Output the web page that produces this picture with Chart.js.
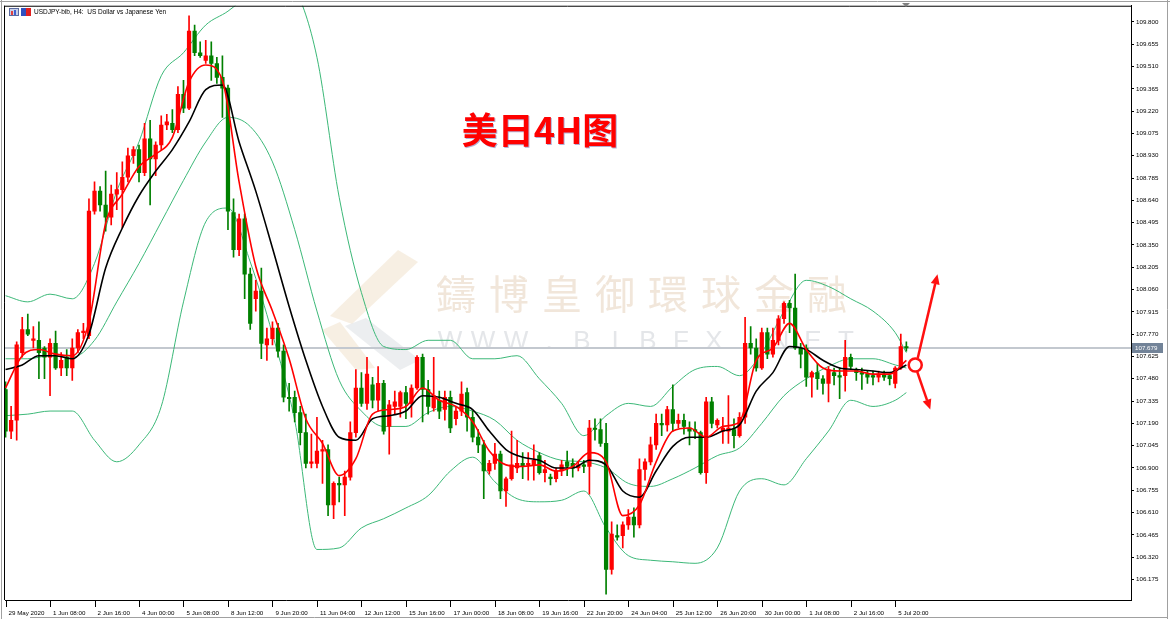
<!DOCTYPE html>
<html>
<head>
<meta charset="utf-8">
<script src="https://cdn.jsdelivr.net/npm/chart.js@4.4.1/dist/chart.umd.min.js"></script>
<style>
  html, body { margin: 0; padding: 0; background: #fff; overflow: hidden; }
  #wrap { width: 1170px; height: 619px; position: relative; }
</style>
</head>
<body>
<div id="wrap"><canvas id="chart"></canvas></div>
<script>
// time axis labels, one every 8 bars (H4)
const timeLabels = ["29 May 2020", "1 Jun 08:00", "2 Jun 16:00", "4 Jun 00:00", "5 Jun 08:00",
  "8 Jun 12:00", "9 Jun 20:00", "11 Jun 04:00", "12 Jun 12:00", "15 Jun 16:00", "17 Jun 00:00",
  "18 Jun 08:00", "19 Jun 16:00", "22 Jun 20:00", "24 Jun 04:00", "25 Jun 12:00", "26 Jun 20:00",
  "30 Jun 00:00", "1 Jul 08:00", "2 Jul 16:00", "5 Jul 20:00"];

const priceTicks = [109.800, 109.655, 109.510, 109.365, 109.220, 109.075, 108.930, 108.785,
  108.640, 108.495, 108.350, 108.205, 108.060, 107.915, 107.770, 107.625, 107.480, 107.335,
  107.190, 107.045, 106.900, 106.755, 106.610, 106.465, 106.320, 106.175];

const lastPrice = 107.679;

// USDJPY H4 candles
const opens = [
  107.41,107.14,107.21,107.65,107.80,107.73,107.73,107.68,107.62,107.71,
  107.55,107.62,107.55,107.68,107.78,107.76,108.57,108.70,108.61,108.53,
  108.68,108.71,108.79,108.93,108.97,108.82,109.04,108.91,109.00,109.13,
  109.14,109.10,109.33,109.24,109.74,109.60,109.55,109.58,109.53,109.44,
  109.37,108.56,108.32,108.52,108.16,108.00,108.05,107.70,107.74,107.81,
  107.66,107.36,107.36,107.26,107.13,106.93,106.93,107.01,107.02,106.66,
  106.80,106.79,106.84,107.13,107.42,107.32,107.44,107.34,107.45,107.17,
  107.30,107.30,107.39,107.32,107.42,107.62,107.41,107.29,107.34,107.28,
  107.36,107.22,107.27,107.39,107.23,107.10,107.05,106.88,106.93,106.99,
  106.75,106.83,106.90,106.93,106.92,106.92,106.98,106.87,106.84,106.83,
  106.88,106.94,106.93,106.90,106.92,106.91,107.16,107.15,107.06,106.24,
  106.46,106.46,106.53,106.58,106.53,106.89,106.94,107.05,107.19,107.18,
  107.28,107.19,107.21,107.16,107.15,107.13,106.87,107.33,107.18,107.14,
  107.14,107.15,107.11,107.23,107.71,107.68,107.55,107.78,107.64,107.73,
  107.87,107.97,107.94,107.68,107.68,107.49,107.52,107.48,107.45,107.52,
  107.50,107.50,107.62,107.54,107.52,107.51,107.50,107.49,107.51,107.50,
  107.45,107.55,107.69];
const highs = [
  107.46,107.30,107.72,107.88,107.90,107.82,107.85,107.69,107.74,107.79,
  107.65,107.67,107.74,107.80,107.84,108.65,108.76,108.73,108.83,108.74,
  108.82,108.89,108.98,108.99,109.00,109.14,109.16,109.02,109.19,109.20,
  109.23,109.38,109.42,109.84,109.78,109.67,109.68,109.67,109.57,109.58,
  109.39,108.65,108.55,108.55,108.20,108.12,108.20,107.81,107.85,107.84,
  107.70,107.45,107.40,107.30,107.25,107.12,107.23,107.08,107.05,106.81,
  106.84,106.88,107.20,107.54,107.52,107.62,107.49,107.56,107.47,107.34,
  107.40,107.40,107.43,107.44,107.63,107.64,107.47,107.62,107.40,107.40,
  107.40,107.30,107.46,107.42,107.27,107.15,107.08,106.95,107.06,107.01,
  106.84,107.14,107.08,107.00,107.00,107.05,107.00,106.95,106.86,106.90,
  106.95,107.01,106.96,106.94,106.95,107.21,107.22,107.22,107.19,106.55,
  106.53,106.55,106.63,106.64,106.96,106.96,107.10,107.25,107.25,107.30,
  107.44,107.25,107.25,107.20,107.20,107.14,107.36,107.36,107.22,107.23,
  107.37,107.22,107.26,107.88,107.82,107.74,107.81,107.81,107.81,107.89,
  107.98,107.99,108.16,107.71,107.70,107.53,107.58,107.50,107.56,107.55,
  107.55,107.73,107.64,107.55,107.55,107.53,107.53,107.53,107.53,107.51,
  107.56,107.77,107.72];
const lows = [
  107.10,107.09,107.08,107.62,107.76,107.68,107.48,107.48,107.37,107.54,
  107.50,107.50,107.47,107.65,107.74,107.74,108.55,108.57,108.44,108.48,
  108.58,108.46,108.76,108.88,108.76,108.80,108.61,108.80,108.97,109.10,
  109.08,109.08,109.21,109.23,109.58,109.57,109.53,109.42,109.40,109.18,
  108.45,108.27,108.28,108.00,107.80,107.92,107.61,107.60,107.70,107.62,
  107.33,107.27,107.20,107.05,106.90,106.90,106.90,106.80,106.59,106.57,
  106.68,106.59,106.82,107.10,107.30,107.28,107.29,107.27,107.12,106.99,
  107.25,107.23,107.22,107.23,107.41,107.20,107.25,107.27,107.22,107.21,
  107.13,107.18,107.24,107.14,107.07,107.00,106.70,106.86,106.89,106.70,
  106.65,106.82,106.87,106.83,106.82,106.82,106.86,106.81,106.79,106.81,
  106.85,106.85,106.84,106.88,106.87,106.73,107.08,107.04,106.08,106.21,
  106.43,106.38,106.50,106.45,106.51,106.82,106.92,107.02,107.11,107.14,
  107.14,107.16,107.12,107.05,107.09,106.86,106.80,107.16,107.16,107.06,
  107.06,107.03,107.10,107.19,107.64,107.53,107.54,107.61,107.62,107.70,
  107.84,107.78,107.67,107.55,107.43,107.36,107.41,107.38,107.33,107.44,
  107.35,107.40,107.54,107.47,107.41,107.45,107.44,107.46,107.47,107.44,
  107.42,107.54,107.66];
const closes = [
  107.14,107.21,107.70,107.80,107.77,107.74,107.65,107.62,107.71,107.55,
  107.60,107.55,107.68,107.78,107.79,108.57,108.70,108.61,108.53,108.68,
  108.71,108.79,108.93,108.97,108.82,109.04,108.91,109.00,109.13,109.15,
  109.10,109.33,109.24,109.74,109.60,109.58,109.58,109.53,109.44,109.37,
  108.57,108.32,108.52,108.16,107.84,108.05,107.71,107.74,107.81,107.66,
  107.36,107.35,107.26,107.13,106.93,106.94,107.01,107.02,106.66,106.80,
  106.79,106.84,107.13,107.42,107.32,107.51,107.34,107.45,107.14,107.31,
  107.33,107.39,107.32,107.42,107.62,107.41,107.30,107.37,107.27,107.36,
  107.16,107.27,107.38,107.23,107.10,107.05,106.88,106.93,106.99,106.75,
  106.83,106.92,106.93,106.91,106.93,106.95,106.87,106.89,106.83,106.88,
  106.92,106.91,106.90,106.92,106.91,107.16,107.15,107.06,106.24,106.47,
  106.45,106.53,106.58,106.53,106.89,106.94,107.05,107.19,107.18,107.28,
  107.19,107.21,107.17,107.14,107.14,106.87,107.33,107.19,107.21,107.16,
  107.16,107.11,107.23,107.71,107.68,107.55,107.78,107.64,107.73,107.87,
  107.97,107.94,107.68,107.64,107.49,107.52,107.48,107.45,107.54,107.50,
  107.49,107.62,107.56,107.52,107.51,107.49,107.49,107.51,107.49,107.48,
  107.55,107.69,107.68];

// moving averages, one value every 3 bars
const redMA = [107.42, 107.63, 107.67, 107.64, 107.63, 107.85, 108.49, 108.68, 108.86, 108.94,
  109.05, 109.41, 109.52, 109.42, 108.76, 108.21, 107.92, 107.61, 107.22, 107.06,
  106.85, 106.96, 107.25, 107.28, 107.30, 107.42, 107.34, 107.30, 107.20, 107.01,
  106.92, 106.91, 106.92, 106.88, 106.91, 107.00, 106.94, 106.59, 106.66, 106.94,
  107.14, 107.16, 107.10, 107.17, 107.20, 107.60, 107.68, 107.84, 107.67, 107.55,
  107.53, 107.53, 107.51, 107.51, 107.60];
const blackMA = [107.54, 107.57, 107.63, 107.63, 107.61, 107.77, 108.20, 108.46, 108.67, 108.83,
  108.97, 109.15, 109.36, 109.39, 109.02, 108.70, 108.33, 107.95, 107.60, 107.30,
  107.10, 107.08, 107.22, 107.24, 107.27, 107.37, 107.36, 107.32, 107.28, 107.14,
  107.02, 106.97, 106.95, 106.90, 106.90, 106.95, 106.92, 106.75, 106.71, 106.88,
  107.04, 107.10, 107.10, 107.14, 107.18, 107.40, 107.52, 107.69, 107.67, 107.60,
  107.55, 107.54, 107.53, 107.52, 107.57];

// Bollinger bands, one value every 4 bars (last one at bar 162)
const upperBand = [108.02, 107.98, 108.03, 108.00, 108.23, 108.70, 109.02, 109.45, 109.60, 109.78,
  109.87, 109.99, 110.12, 110.02, 109.57, 108.66, 108.04, 107.69, 107.67, 107.73,
  107.73, 107.61, 107.61, 107.63, 107.48, 107.32, 107.11, 107.24, 107.32, 107.30,
  107.43, 107.54, 107.56, 107.50, 107.65, 107.92, 108.12, 108.08, 108.00, 107.92,
  107.78, 107.65];
const midBand = [107.61, 107.61, 107.63, 107.62, 107.73, 107.98, 108.23, 108.50, 108.77, 109.02,
  109.18, 109.12, 108.89, 108.45, 107.92, 107.47, 107.27, 107.17, 107.17, 107.26,
  107.30, 107.27, 107.21, 107.08, 107.00, 106.95, 106.94, 106.90, 106.80, 106.78,
  106.83, 106.90, 106.98, 107.03, 107.19, 107.37, 107.48, 107.56, 107.61, 107.61,
  107.57, 107.55];
const lowerBand = [107.24, 107.25, 107.27, 107.27, 107.08, 106.94, 107.05, 107.30, 107.98, 108.50,
  108.59, 108.24, 107.77, 107.21, 106.37, 106.38, 106.51, 106.57, 106.64, 106.72,
  106.88, 106.97, 106.81, 106.70, 106.68, 106.69, 106.75, 106.51, 106.33, 106.30,
  106.29, 106.28, 106.38, 106.75, 106.83, 106.79, 106.96, 107.14, 107.34, 107.30,
  107.34, 107.39];

const maIdx = redMA.map((_, k) => k * 3);
const bandIdx = upperBand.map((_, k) => Math.min(k * 4, opens.length - 1));

const UP = '#ff0000';
const DOWN = '#008000';
const BAND = '#3cb878';

const candleColors = opens.map((o, i) => closes[i] >= o ? UP : DOWN);
const wickData = opens.map((o, i) => ({ x: i, y: [lows[i], highs[i]] }));
const bodyData = opens.map((o, i) => ({ x: i, y: [o, closes[i]] }));
const pts = (idx, vals) => vals.map((v, k) => ({ x: idx[k], y: v }));

const font = 'Liberation Sans';

const overlay = {
  id: 'overlay',
  beforeDatasetsDraw(chart) {
    const { ctx, chartArea: a, scales: { y } } = chart;
    ctx.save();
    ctx.beginPath();
    ctx.rect(a.left, a.top, a.right - a.left, a.bottom - a.top);
    ctx.clip();

    // watermark logo
    ctx.fillStyle = 'rgba(240,226,204,0.55)';
    ctx.beginPath();
    ctx.moveTo(398, 250); ctx.lineTo(418, 262); ctx.lineTo(352, 324); ctx.lineTo(330, 316);
    ctx.closePath(); ctx.fill();
    ctx.beginPath();
    ctx.moveTo(322, 330); ctx.lineTo(340, 322); ctx.lineTo(375, 368); ctx.lineTo(356, 370);
    ctx.closePath(); ctx.fill();
    ctx.fillStyle = 'rgba(220,224,228,0.55)';
    ctx.beginPath();
    ctx.moveTo(345, 326); ctx.lineTo(366, 318); ctx.lineTo(420, 360); ctx.lineTo(400, 370);
    ctx.closePath(); ctx.fill();

    // watermark text
    ctx.fillStyle = '#f1e6da';
    ctx.font = '40px "Noto Sans CJK TC"';
    ctx.textAlign = 'center';
    ctx.textBaseline = 'middle';
    [...'鑄博皇御環球金融'].forEach((ch, k) => ctx.fillText(ch, 456 + k * 53, 294));
    ctx.fillStyle = '#e4e6e9';
    ctx.font = '26px "Liberation Sans"';
    [...'WWW.BIBFX.NET'].forEach((ch, k) => ctx.fillText(ch, 450 + k * 33, 342));

    // bid line
    const py = Math.round(y.getPixelForValue(lastPrice));
    ctx.strokeStyle = '#c3c8cf';
    ctx.lineWidth = 2;
    ctx.beginPath();
    ctx.moveTo(a.left, py); ctx.lineTo(a.right, py);
    ctx.stroke();
    ctx.restore();
  },
  afterDraw(chart) {
    const { ctx, chartArea: a, scales: { x, y } } = chart;
    ctx.save();

    // window frame
    ctx.lineWidth = 1;
    ctx.strokeStyle = '#a0a0a0';
    ctx.beginPath();
    ctx.moveTo(1.5, 0); ctx.lineTo(1.5, 619);
    ctx.moveTo(0, 1.5); ctx.lineTo(1170, 1.5);
    ctx.moveTo(1167.5, 0); ctx.lineTo(1167.5, 619);
    ctx.moveTo(30, 617.5); ctx.lineTo(1168, 617.5);
    ctx.stroke();
    ctx.strokeStyle = '#000';
    ctx.beginPath();
    ctx.moveTo(a.left - 0.5, a.top); ctx.lineTo(a.left - 0.5, a.bottom);
    ctx.moveTo(a.left - 1, a.top + 0.5); ctx.lineTo(a.right, a.top + 0.5);
    ctx.stroke();

    // shift marker
    ctx.fillStyle = '#808080';
    ctx.beginPath();
    ctx.moveTo(902, 3); ctx.lineTo(910, 3); ctx.lineTo(906, 7);
    ctx.closePath(); ctx.fill();

    // time tick marks
    ctx.strokeStyle = '#000';
    ctx.beginPath();
    timeLabels.forEach((t, k) => {
      const px = Math.round(x.getPixelForValue(k * 8)) + 0.5;
      ctx.moveTo(px, a.bottom); ctx.lineTo(px, a.bottom + 7);
    });
    ctx.stroke();

    // header icons and text
    ctx.fillStyle = '#c8d0e8'; ctx.fillRect(9, 8, 10, 8);
    ctx.strokeStyle = '#5a6aa0'; ctx.strokeRect(9.5, 8.5, 9, 7);
    ctx.fillStyle = '#e04040'; ctx.fillRect(11, 11, 2, 4);
    ctx.fillStyle = '#4060d0'; ctx.fillRect(14, 10, 2, 5);
    ctx.fillStyle = '#3050c0'; ctx.fillRect(21, 8, 5, 8);
    ctx.fillStyle = '#e02020'; ctx.fillRect(26, 8, 5, 8);
    ctx.fillStyle = '#000';
    ctx.font = '6.5px "' + font + '"';
    ctx.textAlign = 'left';
    ctx.textBaseline = 'middle';
    ctx.fillText('USDJPY-bib, H4:  US Dollar vs Japanese Yen', 34, 12.5);

    // title
    ctx.font = 'bold 36px "Noto Sans CJK SC"';
    ctx.textAlign = 'center';
    ctx.textBaseline = 'middle';
    ctx.shadowColor = 'rgba(60,60,150,0.4)';
    ctx.shadowOffsetX = 1;
    ctx.shadowOffsetY = 1;
    ctx.fillStyle = '#ff0000';
    ctx.fillText('美日4H图', 540, 130);
    ctx.shadowColor = 'transparent';

    // bid label
    const py = Math.round(y.getPixelForValue(lastPrice));
    ctx.fillStyle = '#728398';
    ctx.fillRect(a.right + 1, py - 5, 31, 10);
    ctx.fillStyle = '#fff';
    ctx.font = '6.2px "' + font + '"';
    ctx.textAlign = 'left';
    ctx.fillText(lastPrice.toFixed(3), a.right + 4, py + 0.5);

    // circle and arrows
    const cx = x.getPixelForValue(163.6), cy = y.getPixelForValue(107.57);
    ctx.strokeStyle = '#ff1010';
    ctx.fillStyle = '#ff1010';
    ctx.lineWidth = 2.5;
    const arrow = (x0, y0, x1, y1) => {
      const ang = Math.atan2(y1 - y0, x1 - x0);
      const hl = 10, hw = 4.5;
      const bx = x1 - hl * Math.cos(ang), by = y1 - hl * Math.sin(ang);
      ctx.beginPath(); ctx.moveTo(x0, y0); ctx.lineTo(bx, by); ctx.stroke();
      ctx.beginPath();
      ctx.moveTo(x1, y1);
      ctx.lineTo(bx + hw * Math.sin(ang), by - hw * Math.cos(ang));
      ctx.lineTo(bx - hw * Math.sin(ang), by + hw * Math.cos(ang));
      ctx.closePath(); ctx.fill();
    };
    arrow(cx + 2.5, cy - 7, x.getPixelForValue(167.6), y.getPixelForValue(108.16));
    arrow(cx + 2, cy + 7, x.getPixelForValue(166.3), y.getPixelForValue(107.28));
    ctx.fillStyle = '#fff';
    ctx.beginPath(); ctx.arc(cx, cy, 6.5, 0, Math.PI * 2); ctx.fill(); ctx.stroke();
    ctx.restore();
  }
};

Chart.defaults.font.family = font;

new Chart(document.getElementById('chart'), {
  type: 'bar',
  data: {
    datasets: [
      { type: 'line', label: 'MA fast', data: pts(maIdx, redMA), borderColor: '#ff0000', borderWidth: 1.6,
        pointRadius: 0, cubicInterpolationMode: 'monotone', order: 0 },
      { type: 'line', label: 'MA slow', data: pts(maIdx, blackMA), borderColor: '#000000', borderWidth: 1.6,
        pointRadius: 0, cubicInterpolationMode: 'monotone', order: 0 },
      { label: 'wick', data: wickData, backgroundColor: candleColors, barThickness: 1, grouped: false, order: 1 },
      { label: 'body', data: bodyData, backgroundColor: candleColors, barThickness: 3.6, minBarLength: 1,
        grouped: false, order: 1 },
      { type: 'line', label: 'BB upper', data: pts(bandIdx, upperBand), borderColor: BAND, borderWidth: 1,
        pointRadius: 0, cubicInterpolationMode: 'monotone', order: 2 },
      { type: 'line', label: 'BB middle', data: pts(bandIdx, midBand), borderColor: BAND, borderWidth: 1,
        pointRadius: 0, cubicInterpolationMode: 'monotone', order: 2 },
      { type: 'line', label: 'BB lower', data: pts(bandIdx, lowerBand), borderColor: BAND, borderWidth: 1,
        pointRadius: 0, cubicInterpolationMode: 'monotone', order: 2 }
    ]
  },
  options: {
    responsive: true,
    maintainAspectRatio: false,
    animation: false,
    devicePixelRatio: 1,
    layout: { padding: { left: 5, top: 3, right: 0, bottom: 0 } },
    plugins: { legend: { display: false }, tooltip: { enabled: false } },
    scales: {
      x: {
        type: 'linear', min: -0.1, max: 202.4, offset: false,
        afterBuildTicks: (s) => { s.ticks = timeLabels.map((t, k) => ({ value: k * 8 })); },
        afterFit: (s) => { s.height = 19; },
        grid: { display: false, offset: false },
        border: { display: true, color: '#000', width: 1 },
        ticks: {
          autoSkip: false, maxRotation: 0, minRotation: 0, align: 'start', labelOffset: 3, padding: 2,
          color: '#000', font: { size: 6.2 },
          callback: (v) => timeLabels[Math.round(v / 8)]
        }
      },
      y: {
        type: 'linear', position: 'right', min: 106.0415, max: 109.9055, offset: false,
        afterBuildTicks: (s) => { s.ticks = priceTicks.map((v) => ({ value: v })); },
        afterFit: (s) => { s.width = 39; },
        grid: { display: true, drawOnChartArea: false, drawTicks: true, tickLength: 3, color: '#000', offset: false },
        border: { display: true, color: '#000', width: 1 },
        ticks: { padding: 2, color: '#000', font: { size: 6.2 }, callback: (v) => Number(v).toFixed(3) }
      }
    }
  },
  plugins: [overlay]
});
</script>
</body>
</html>
